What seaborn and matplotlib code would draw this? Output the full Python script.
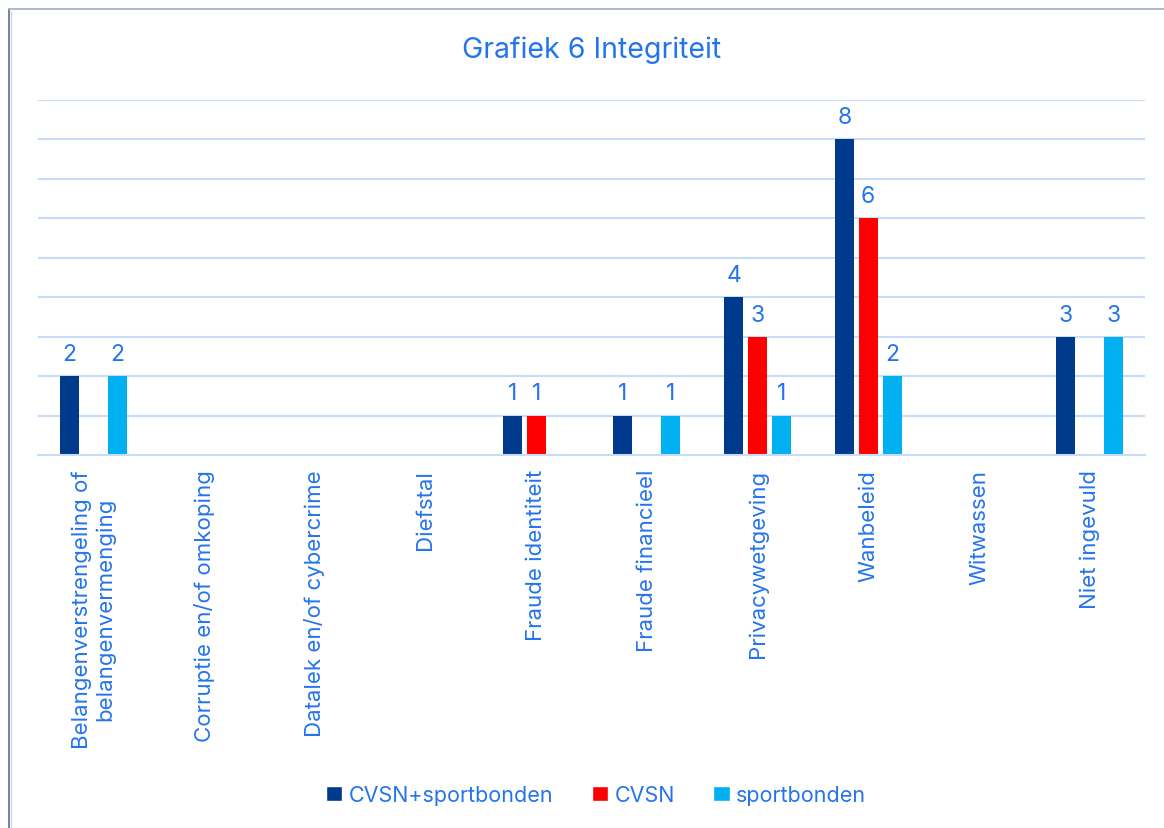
import pandas as pd
import matplotlib.pyplot as plt
import seaborn as sns
from matplotlib.lines import Line2D
from matplotlib.patches import Patch

# data
categories = ['Belangenverstrengeling of\nbelangenvermenging', 'Corruptie en/of omkoping',
              'Datalek en/of cybercrime', 'Diefstal', 'Fraude identiteit', 'Fraude financieel',
              'Privacywetgeving', 'Wanbeleid', 'Witwassen', 'Niet ingevuld']
series_names = ['CVSN+sportbonden', 'CVSN', 'sportbonden']
cvsn_sport = [2, 0, 0, 0, 1, 1, 4, 8, 0, 3]
cvsn = [0, 0, 0, 0, 1, 0, 3, 6, 0, 0]
sportbonden = [2, 0, 0, 0, 0, 1, 1, 2, 0, 3]

colors = ['#003A8C', '#FF0000', '#00B0F0']
text_blue = '#2474EE'
grid_blue = '#C9DCF7'

sns.set_style('white')
plt.rcParams['font.family'] = ['Inter', 'DejaVu Sans']

df = pd.DataFrame({
    'cat': categories * 3,
    'serie': sum([[s] * len(categories) for s in series_names], []),
    'val': cvsn_sport + cvsn + sportbonden,
})

fig = plt.figure(figsize=(11.64, 8.29), dpi=100)
ax = fig.add_axes([38 / 1164, 1 - 456 / 829, (1145 - 38) / 1164, (456 - 101) / 829])

sns.barplot(data=df, x='cat', y='val', hue='serie', hue_order=series_names,
            palette=colors, width=0.65, gap=0.2, ax=ax, legend=False,
            saturation=1, errorbar=None, linewidth=0)

for cont in ax.containers:
    labels = [f'{int(b.get_height())}' if b.get_height() > 0 else '' for b in cont]
    ax.bar_label(cont, labels=labels, padding=8, color=text_blue, fontsize=16.5)

ax.set_ylim(0, 9)
ax.set_xlim(-0.5, len(categories) - 0.5)
ax.set_yticks(range(1, 10))
ax.set_yticklabels([])
ax.tick_params(axis='y', length=0)
ax.yaxis.grid(True, color=grid_blue, linewidth=1.5)
ax.set_axisbelow(True)
for s in ['top', 'right', 'left']:
    ax.spines[s].set_visible(False)
ax.spines['bottom'].set_color(grid_blue)
ax.spines['bottom'].set_linewidth(1.5)

ax.set_xticks(range(len(categories)))
ax.set_xticklabels(categories, rotation=90, color=text_blue, fontsize=16,
                   ha='center', va='top', multialignment='center')
ax.tick_params(axis='x', which='major', length=0, pad=10)
ax.set_xticks([i - 0.5 for i in range(len(categories) + 1)], minor=True)
ax.tick_params(axis='x', which='minor', length=7, color=grid_blue, width=1.5)
ax.set_xlabel('')
ax.set_ylabel('')

fig.text(592 / 1164, 1 - 50 / 829, 'Grafiek 6 Integriteit', ha='center', va='center',
         color=text_blue, fontsize=20.5)

handles = [Patch(facecolor=c, label=n) for c, n in zip(colors, series_names)]
fig.legend(handles=handles, loc='center', bbox_to_anchor=(596 / 1164, 1 - 796 / 829), ncol=3,
           frameon=False, fontsize=15.5, labelcolor=text_blue, handlelength=0.75,
           handleheight=0.75, handletextpad=0.3, columnspacing=1.8)

# chart frame (left and top edges)
fig.add_artist(Line2D([9 / 1164, 9 / 1164], [0, 1 - 10 / 829], color='#6E7690', linewidth=1.3))
fig.add_artist(Line2D([9 / 1164, 1], [1 - 10 / 829, 1 - 10 / 829], color='#A8B4CE', linewidth=1.3))
fig.add_artist(Line2D([11 / 1164, 11 / 1164], [0, 1 - 12 / 829], color='#C9DCF7', linewidth=1))

fig.savefig('out.png', dpi=100)
